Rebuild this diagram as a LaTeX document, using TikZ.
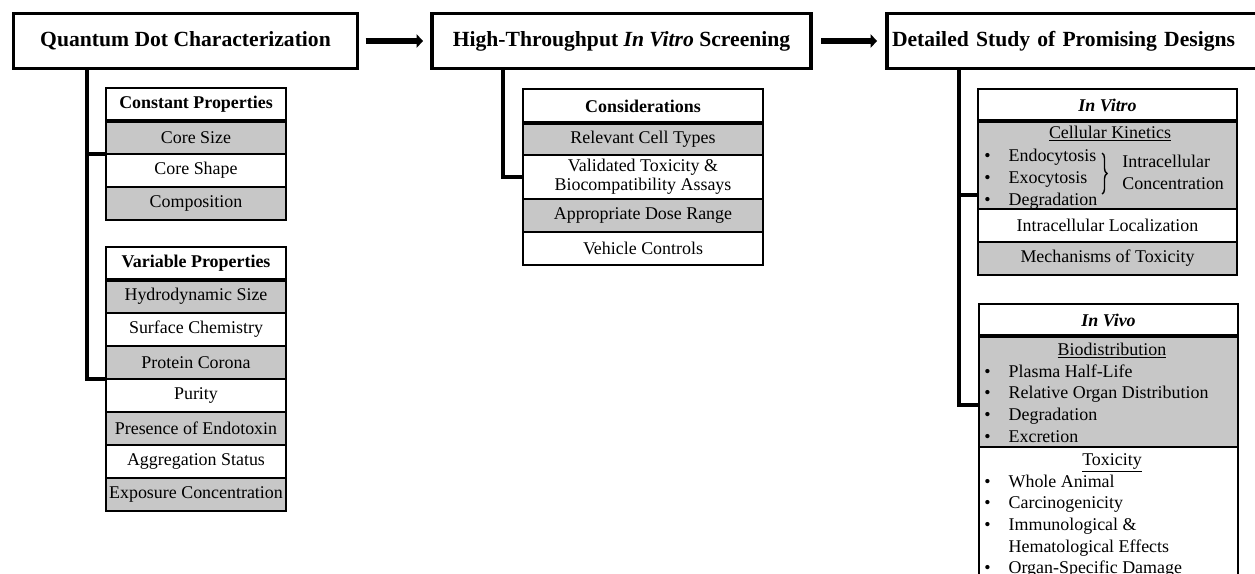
\documentclass[tikz,border=0pt]{standalone}
\usepackage{fontspec}
\setmainfont{Liberation Serif}
\usetikzlibrary{positioning, arrows.meta, calc, decorations.pathreplacing}
\definecolor{cellgray}{RGB}{199,199,199}
\newcommand{\bulitem}{\textbullet\hspace{3.6mm}}

\begin{document}
\begin{tikzpicture}[
  x=0.2mm, y=-0.2mm,
  stage/.style={draw, line width=2.2pt, minimum height=11mm, outer sep=0pt,
    font=\fontsize{12.3}{14}\selectfont\bfseries},
  cell/.style={draw, line width=0.9pt, minimum height=6.6mm, inner sep=0pt,
    outer sep=0pt, align=center, fill=white, font=\fontsize{10.2}{11}\selectfont},
  graycell/.style={cell, fill=cellgray},
  headcell/.style={cell, font=\fontsize{10.2}{11}\selectfont\bfseries},
  txt/.style={anchor=base west, inner sep=0pt, font=\fontsize{10.2}{12}\selectfont},
  flow/.style={-{Triangle[length=1.3mm, width=2.7mm]}, line width=1.3mm},
  trunk/.style={line width=1.9pt},
  rule/.style={line width=1.8pt},
]
  \clip (0,0) rectangle (1255,573);

  % stages
  \node[stage, anchor=north west, minimum width=68.8mm] (qdc) at (13.5,13.5)
    {Quantum Dot Characterization};
  \node[stage, right=14.9mm of qdc, minimum width=75.8mm] (hts)
    {High-Throughput \textit{In Vitro} Screening};
  \node[stage, right=15.2mm of hts, text width=74.6mm, inner xsep=1mm, align=left] (dsd)
    {Detailed Study of Promising Designs};

  \draw[flow, shorten <=1.6mm, shorten >=1.8mm] (qdc) -- (hts);
  \draw[flow, shorten <=2mm, shorten >=2mm] (hts) -- (dsd);

  % characterization
  \begin{scope}[cell/.append style={minimum width=36mm}]
    \node[headcell, anchor=north west] (const) at (106,88) {Constant Properties};
    \node[graycell, below=0pt of const] (coresize) {Core Size};
    \node[cell, below=0pt of coresize] (coreshape) {Core Shape};
    \node[graycell, below=0pt of coreshape] (compo) {Composition};

    \node[headcell, anchor=north west] (var) at (106,247) {Variable Properties};
    \node[graycell, below=0pt of var] (hydro) {Hydrodynamic Size};
    \node[cell, below=0pt of hydro] (surf) {Surface Chemistry};
    \node[graycell, below=0pt of surf] (corona) {Protein Corona};
    \node[cell, below=0pt of corona] (purity) {Purity};
    \node[graycell, below=0pt of purity] (endotox) {Presence of Endotoxin};
    \node[cell, below=0pt of endotox] (aggr) {Aggregation Status};
    \node[graycell, below=0pt of aggr] (expo) {Exposure Concentration};
  \end{scope}

  % screening
  \begin{scope}[cell/.append style={minimum width=48mm}]
    \node[headcell, anchor=north west, minimum height=6.8mm] (consid) at (523,89) {Considerations};
    \node[graycell, below=0pt of consid, minimum height=6.4mm] (celltypes) {Relevant Cell Types};
    \node[cell, below=0pt of celltypes, minimum height=8.8mm] (assays)
      {Validated Toxicity \&\\Biocompatibility Assays};
    \node[graycell, below=0pt of assays] (dose) {Appropriate Dose Range};
    \node[cell, below=0pt of dose] (vehicle) {Vehicle Controls};
  \end{scope}

  % detailed study
  \begin{scope}[cell/.append style={minimum width=51.8mm}]
    \node[headcell, anchor=north west, minimum height=6.4mm] (invitro) at (978,89) {\textit{In Vitro}};
    \node[graycell, below=0pt of invitro, minimum height=17.6mm] (kin) {};
    \node[cell, below=0pt of kin] (loc) {Intracellular Localization};
    \node[graycell, below=0pt of loc] (mech) {Mechanisms of Toxicity};

    \node[headcell, anchor=north west, minimum height=6.4mm] (invivo) at (979,304) {\textit{In Vivo}};
    \node[graycell, below=0pt of invivo, minimum height=22.2mm] (bio) {};
    \node[cell, below=0pt of bio, minimum height=30mm] (tox) {};
  \end{scope}

  % heavier rule under each table title
  \draw[rule] (const.south west) -- (const.south east);
  \draw[rule] (var.south west) -- (var.south east);
  \draw[rule] (consid.south west) -- (consid.south east);
  \draw[rule] (invitro.south west) -- (invitro.south east);
  \draw[rule] (invivo.south west) -- (invivo.south east);

  \node[txt, anchor=base] (kinhd) at (1110,138) {\underline{Cellular Kinetics}};
  \node[txt] (endo) at (984,161) {\bulitem Endocytosis};
  \node[txt] (exo) at (984,183) {\bulitem Exocytosis};
  \node[txt] (degr) at (984,205) {\bulitem Degradation};
  \draw[decorate, decoration={brace, amplitude=1mm}, line width=0.8pt]
    (1102,153) -- (1102,194);
  \node[txt] (intra) at (1122,167) {Intracellular};
  \node[txt] (conc) at (1122,189) {Concentration};

  \node[txt, anchor=base] (biohd) at (1112,355) {\underline{Biodistribution}};
  \node[txt] (plasma) at (984,377) {\bulitem Plasma Half-Life};
  \node[txt] (organ) at (984,398) {\bulitem Relative Organ Distribution};
  \node[txt] (degrv) at (984,420) {\bulitem Degradation};
  \node[txt] (excr) at (984,442) {\bulitem Excretion};

  \node[txt, anchor=base] (toxhd) at (1112,465) {\underline{Toxicity}};
  \node[txt] (whole) at (984,487) {\bulitem Whole Animal};
  \node[txt] (carc) at (984,508) {\bulitem Carcinogenicity};
  \node[txt] (immuno) at (984,530) {\bulitem Immunological \&};
  \node[txt] (hemato) at (1008.3,552) {Hematological Effects};
  \node[txt] (damage) at (984,573) {\bulitem Organ-Specific Damage};

  % trunks
  \coordinate (t1) at ([xshift=14.7mm]qdc.south west);
  \draw[trunk] (t1) |- (corona.south west);
  \draw[trunk] (t1 |- coresize.south west) -- (coresize.south west);

  \coordinate (t2) at ([xshift=14.2mm]hts.south west);
  \draw[trunk] (t2) |- (assays.west);

  \coordinate (t3) at ([xshift=14.4mm]dsd.south west);
  \coordinate (kinjoin) at ([yshift=-6mm]kin.west);
  \draw[trunk] (t3) |- ([yshift=-2.7mm]bio.west);
  \draw[trunk] (t3 |- kinjoin) -- (kinjoin);
\end{tikzpicture}
\end{document}
